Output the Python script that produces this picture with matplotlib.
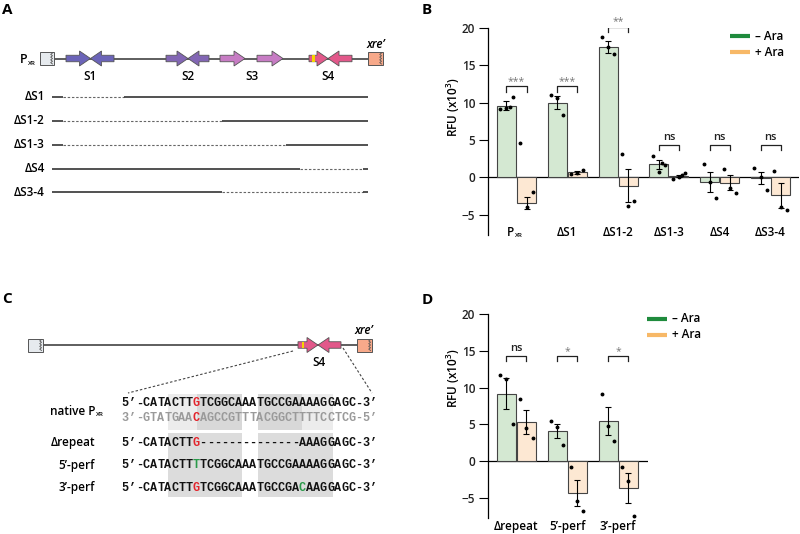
import matplotlib.pyplot as plt
import numpy as np
from matplotlib.patches import Polygon, Rectangle

plt.rcParams['font.family'] = ['Open Sans', 'DejaVu Sans']
plt.rcParams['font.weight'] = 'semibold'
plt.rcParams['mathtext.default'] = 'regular'

# ---- panel B data (RFU x10^3)
b_groups = ['P', 'ΔS1', 'ΔS1-2', 'ΔS1-3', 'ΔS4', 'ΔS3-4']
b_minus = [9.6, 10.0, 17.5, 1.75, -0.6, -0.1]
b_minus_err = [0.6, 0.85, 0.8, 0.65, 1.3, 0.8]
b_plus = [-3.4, 0.7, -1.1, 0.2, -0.7, -2.4]
b_plus_err = [0.8, 0.2, 2.2, 0.15, 1.0, 1.65]
b_minus_pts = [[9.2, 10.8, 9.3, 9.4], [11.0, 8.4, 10.6], [18.8, 16.5, 17.4],
               [2.85, 1.65, 0.7, 1.95], [1.8, -2.8, -0.6], [1.3, -1.65, 0.1]]
b_plus_pts = [[4.65, -2.0, -4.0], [0.5, 1.0, 0.6], [3.2, -3.1, -3.8],
              [-0.2, 0.6, 0.1, 0.35], [1.15, -2.1, -1.4], [0.8, -4.4, -4.0]]
b_sig = ['***', '***', '**', 'ns', 'ns', 'ns']
b_sig_y = [12.2, 12.2, 20.2, 4.4, 4.4, 4.4]

# ---- panel D data
d_groups = ['Δrepeat', '5’-perf', '3’-perf']
d_minus = [9.2, 4.1, 5.5]
d_minus_err = [2.1, 0.95, 1.9]
d_plus = [5.3, -4.3, -3.6]
d_plus_err = [1.6, 1.75, 2.0]
d_minus_pts = [[11.7, 5.0, 11.2], [5.5, 2.2, 4.7], [9.2, 2.7, 4.8]]
d_plus_pts = [[8.4, 3.1, 4.5], [-0.8, -6.7, -5.4], [-0.8, -7.4, -2.7]]
d_sig = ['ns', '*', '*']
d_sig_y = [14.3, 14.3, 14.3]

# ---- panel C sequences
seq_rows = ['5’-CATACTTGTCGGCAAATGCCGAAAAGGAGC-3’',
            '3’-GTATGAACAGCCGTTTACGGCTTTTCCTCG-5’',
            '5’-CATACTTG--------------AAAGGAGC-3’',
            '5’-CATACTTTTCGGCAAATGCCGAAAAGGAGC-3’',
            '5’-CATACTTGTCGGCAAATGCCGACAAGGAGC-3’']
seq_labels = ['native P', 'Δrepeat', '5’-perf', '3’-perf']

GREEN_FILL = '#d4e8d2'
ORANGE_FILL = '#fde8d3'
GREEN = '#1f8b3d'
ORANGE = '#f7b867'
RED = '#e3232b'
SEQGREEN = '#2a9a4a'

W, H = 800, 534
fig = plt.figure(figsize=(8, 5.34), dpi=100)


def px_axes(x0, y_top, x1, y_bot):
    return fig.add_axes([x0 / W, 1 - y_bot / H, (x1 - x0) / W, (y_bot - y_top) / H])


def bar_panel(ax, groups, minus, minus_err, plus, plus_err, mpts, ppts, sig, sig_y, xmax):
    x = np.arange(len(groups))
    off = 0.197
    bw = 0.375
    ax.axhline(0, color='k', lw=0.9, zorder=1)
    ax.bar(x - off, minus, bw, color=GREEN_FILL, edgecolor='#444444', lw=0.8, zorder=2)
    ax.bar(x + off, plus, bw, color=ORANGE_FILL, edgecolor='#444444', lw=0.8, zorder=2)
    ax.errorbar(x - off, minus, yerr=minus_err, fmt='none', ecolor='k', elinewidth=0.8,
                capsize=2.5, capthick=0.8, zorder=3)
    ax.errorbar(x + off, plus, yerr=plus_err, fmt='none', ecolor='k', elinewidth=0.8,
                capsize=2.5, capthick=0.8, zorder=3)
    jit = [-0.12, 0.12, 0.0, 0.06]
    for i in range(len(groups)):
        for k, v in enumerate(mpts[i]):
            ax.plot(x[i] - off + jit[k], v, 'o', color='k', ms=1.8, zorder=4)
        for k, v in enumerate(ppts[i]):
            ax.plot(x[i] + off + jit[k], v, 'o', color='k', ms=1.8, zorder=4)
        y = sig_y[i]
        ax.plot([x[i] - off, x[i] - off, x[i] + off, x[i] + off], [y - 0.7, y, y, y - 0.7],
                color='#222222', lw=0.9)
        if sig[i] == 'ns':
            ax.text(x[i], y + 0.25, 'ns', ha='center', va='bottom', fontsize=8, color='#222222')
        else:
            ax.text(x[i], y - 0.1, sig[i], ha='center', va='bottom', fontsize=7.5,
                    color='#777777', fontweight='normal')
    ax.set_xlim(-0.567, xmax)
    ax.set_ylim(-7.7, 20)
    ax.set_yticks([-5, 0, 5, 10, 15, 20])
    ax.set_xticks([])
    for s in ['top', 'right', 'bottom']:
        ax.spines[s].set_visible(False)
    ax.spines['left'].set_linewidth(0.9)
    ax.tick_params(axis='y', length=6.5, width=0.8, pad=2.5, labelsize=8.5, labelcolor='#222222')
    ax.patch.set_alpha(0)


axB = px_axes(487.7, 28, 799, 235)
bar_panel(axB, b_groups, b_minus, b_minus_err, b_plus, b_plus_err,
          b_minus_pts, b_plus_pts, b_sig, b_sig_y, 5.56)
axD = px_axes(487.7, 314, 648, 518)
bar_panel(axD, d_groups, d_minus, d_minus_err, d_plus, d_plus_err,
          d_minus_pts, d_plus_pts, d_sig, d_sig_y, 2.59)

for i, g in enumerate(b_groups):
    if g == 'P':
        axB.text(i - 0.04, -7.3, 'P', ha='right', va='center', fontsize=8.5)
        axB.text(i - 0.03, -7.8, 'XR', ha='left', va='center', fontsize=4.5)
    else:
        axB.text(i, -7.3, g, ha='center', va='center', fontsize=8.5)
for i, g in enumerate(d_groups):
    axD.text(i, -8.9, g, ha='center', va='center', fontsize=8.5, clip_on=False)

# ---- overlay for schematics, legends, labels
ov = fig.add_axes([0, 0, 1, 1])
ov.set_xlim(0, W)
ov.set_ylim(H, 0)
ov.axis('off')
ov.patch.set_alpha(0)

for lab, (lx, ly) in zip('ABCD', [(2, 3), (422, 3), (2, 292), (422, 293)]):
    ov.text(lx, ly, lab, fontsize=11, fontweight='bold', ha='left', va='top')

ov.text(453, 107, 'RFU (x10$^3$)', rotation=90, ha='center', va='center', fontsize=8.5)
ov.text(453, 378, 'RFU (x10$^3$)', rotation=90, ha='center', va='center', fontsize=8.5)

for (lx0, lx1, y0, tx) in [(730, 750, 36, 755), (647, 667, 319, 672)]:
    ov.plot([lx0, lx1], [y0, y0], color=GREEN, lw=3, solid_capstyle='butt')
    ov.plot([lx0, lx1], [y0 + 16, y0 + 16], color=ORANGE, lw=3, solid_capstyle='butt')
    ov.text(tx, y0, '– Ara', ha='left', va='center', fontsize=8.5)
    ov.text(tx, y0 + 16, '+ Ara', ha='left', va='center', fontsize=8.5)


def arrow(x_tail, x_tip, y, color, bh=6.5, hh=15, hl=11):
    d = 1 if x_tip > x_tail else -1
    xb = x_tip - d * hl
    pts = [(x_tail, y - bh / 2), (xb, y - bh / 2), (xb, y - hh / 2), (x_tip, y),
           (xb, y + hh / 2), (xb, y + bh / 2), (x_tail, y + bh / 2)]
    ov.add_patch(Polygon(pts, closed=True, facecolor=color, edgecolor='#555555', lw=0.6, zorder=3))


def end_box(x0, x1, y, color):
    ov.add_patch(Rectangle((x0, y - 6.5), x1 - x0, 13, facecolor=color, edgecolor='#555555',
                           lw=0.7, zorder=3))
    zy = np.linspace(y - 5.5, y + 5.5, 9)
    zx = x1 - 1.5 + np.array([0, -1.8] * 5)[:9]
    ov.plot(zx, zy, color='#555555', lw=0.6, zorder=4)


# ---- panel A schematic
ya = 58.5
ov.plot([54, 368], [ya, ya], color='#333333', lw=1.1, zorder=2)
end_box(40, 54, ya, '#e6eaee')
end_box(368, 383, ya, '#f7a98a')
ov.text(20, ya + 1, 'P', ha='left', va='center', fontsize=9)
ov.text(27.5, ya + 5, 'XR', ha='left', va='center', fontsize=4.5)
ov.text(376, 45, 'xre’', ha='center', va='center', fontsize=8.5, style='italic')
arrow(66, 90.5, ya, '#6b64b8')
arrow(114, 90.5, ya, '#6b64b8')
arrow(166, 188, ya, '#8266b4')
arrow(209, 188, ya, '#8266b4')
arrow(220, 245, ya, '#c77cc4')
arrow(257, 283, ya, '#c77cc4')
arrow(309, 328, ya, '#e2588a')
arrow(352, 328, ya, '#e2588a')
ov.add_patch(Rectangle((312.3, ya - 3.25), 2.2, 6.5, facecolor='#f5d400', edgecolor='none', zorder=4))
for s, sx in zip(['S1', 'S2', 'S3', 'S4'], [90, 188, 252.5, 328.5]):
    ov.text(sx, 77, s, ha='center', va='center', fontsize=8.5)

# deletion constructs: (label, y, [solid, dashed, solid ...] break points)
del_rows = [('ΔS1', 97, [52, 63, 124, 368]),
            ('ΔS1-2', 121, [52, 63, 222, 368]),
            ('ΔS1-3', 145, [52, 63, 286, 368]),
            ('ΔS4', 169, [52, 300, 363, 368]),
            ('ΔS3-4', 192, [52, 222, 363, 368])]
for lab, y, bp in del_rows:
    ov.text(45, y, lab, ha='right', va='center', fontsize=8.5)
    for k in range(len(bp) - 1):
        if k % 2 == 0:
            ov.plot([bp[k], bp[k + 1]], [y, y], color='#333333', lw=1.2, solid_capstyle='butt')
        else:
            ov.plot([bp[k], bp[k + 1]], [y, y], color='#666666', lw=0.8, dashes=(2.2, 1.6))

# ---- panel C schematic
yc = 345
ov.plot([43, 357], [yc, yc], color='#333333', lw=1.1, zorder=2)
end_box(28, 43, yc, '#e6eaee')
end_box(357, 372, yc, '#f7a98a')
ov.text(364, 330, 'xre’', ha='center', va='center', fontsize=8.5, style='italic')
arrow(298, 318, yc, '#e2588a')
arrow(341, 318, yc, '#e2588a')
ov.add_patch(Rectangle((301.5, yc - 3.25), 2.2, 6.5, facecolor='#f5d400', edgecolor='none', zorder=4))
ov.text(319, 363, 'S4', ha='center', va='center', fontsize=8.5)
ov.plot([293, 128], [351, 393], color='#444444', lw=0.8, dashes=(2.2, 1.8))
ov.plot([343, 372], [348, 393], color='#444444', lw=0.8, dashes=(2.2, 1.8))

# sequence shading
cw = 7.08
sx0 = 121.7
for (a, b, c) in [(167.7, 196.7, '#ececec'), (196.7, 241.7, '#d8d8d8'),
                  (257.7, 301.7, '#d8d8d8'), (301.7, 332.7, '#ececec')]:
    ov.add_patch(Rectangle((a, 394), b - a, 36, facecolor=c, edgecolor='none', zorder=1))
for (a, b) in [(167.7, 241.7), (257.7, 332.7)]:
    ov.add_patch(Rectangle((a, 433), b - a, 64, facecolor='#dcdcdc', edgecolor='none', zorder=1))

row_y = [403.3, 418, 442.7, 465, 487.7]
highlights = {0: {10: RED}, 1: {10: RED}, 2: {10: RED}, 3: {10: SEQGREEN}, 4: {10: RED, 25: SEQGREEN}}
for r, seq in enumerate(seq_rows):
    base = '#9a9a9a' if r == 1 else '#111111'
    for i, ch in enumerate(seq):
        col = highlights[r].get(i, base)
        ov.text(sx0 + (i + 0.5) * cw, row_y[r], ch, ha='center', va='center',
                fontsize=8.5, family='Liberation Mono', fontweight='bold', color=col, zorder=3)

ov.text(95, 411.5, seq_labels[0], ha='right', va='center', fontsize=8.5)
ov.text(96, 414.5, 'XR', ha='left', va='center', fontsize=4.5)
for lab, y in zip(seq_labels[1:], row_y[2:]):
    ov.text(95, y, lab, ha='right', va='center', fontsize=8.5)

fig.savefig('out.png', dpi=100)
